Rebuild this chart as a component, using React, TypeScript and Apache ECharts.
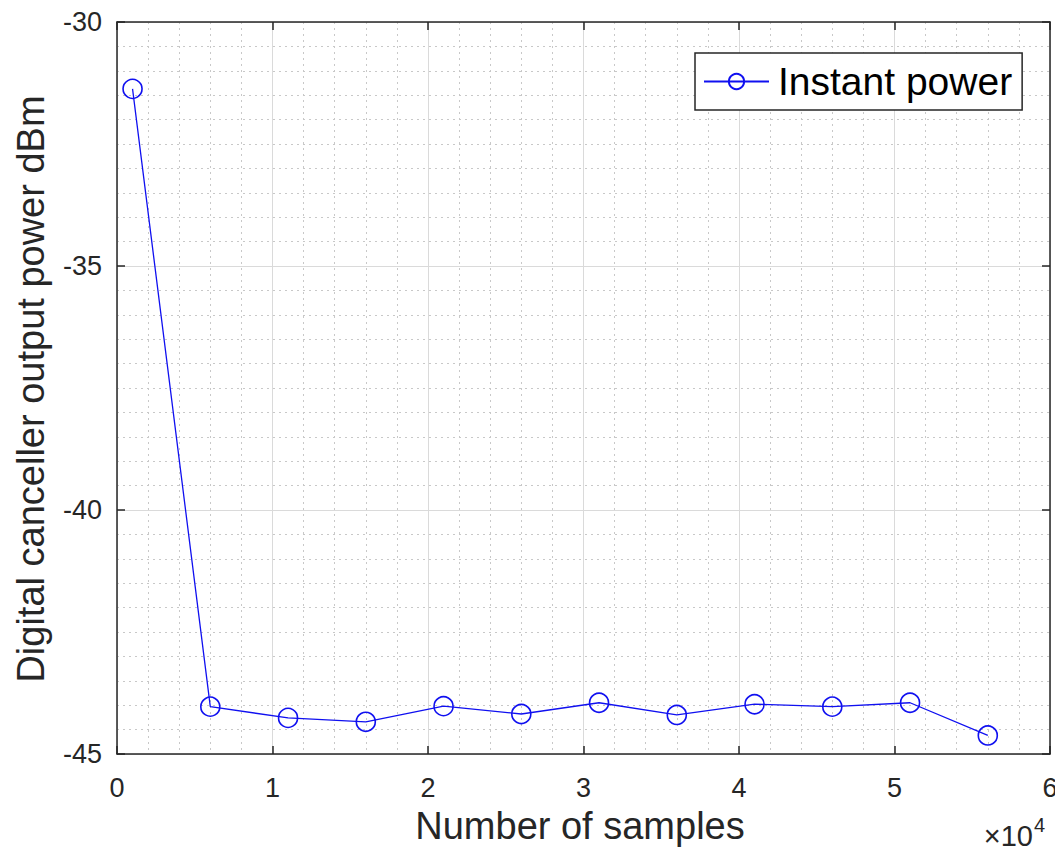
import React, { useEffect, useRef } from "react";
import * as echarts from "echarts";

const xSamples = [1000, 6000, 11000, 16000, 21000, 26000, 31000, 36000, 41000, 46000, 51000, 56000];
const powerDbm = [-31.37, -44.03, -44.26, -44.34, -44.02, -44.18, -43.95, -44.2, -43.98, -44.03, -43.95, -44.62];
const seriesName = "Instant power";
const xTitle = "Number of samples";
const yTitle = "Digital canceller output power dBm";
const xExponentBase = "×10";
const xExponent = "4";

export default function App() {
  const ref = useRef<HTMLDivElement>(null);
  useEffect(() => {
    if (!ref.current) return;
    const chart = echarts.init(ref.current, undefined, { renderer: "svg" });
    const font = "Liberation Sans, Arial, Helvetica, sans-serif";
    const axisCommon = {
      axisLine: { show: true, onZero: false, lineStyle: { color: "#262626", width: 1.5 } },
      axisTick: { show: true, inside: true, length: 8, lineStyle: { color: "#262626", width: 1.5 } },
    };
    chart.setOption({
      animation: false,
      backgroundColor: "#ffffff",
      grid: { left: 117, top: 22, width: 933, height: 732, show: false },
      legend: {
        show: true,
        data: [seriesName],
        left: 695,
        top: 53,
        itemWidth: 65,
        itemHeight: 19,
        itemGap: 0,
        padding: [8, 10, 8, 8],
        borderColor: "#262626",
        borderWidth: 1.5,
        borderRadius: 0,
        backgroundColor: "#ffffff",
        textStyle: { fontSize: 39, lineHeight: 41, color: "#000", fontFamily: font, padding: [0, 0, 0, 4] },
      },
      xAxis: [
        {
          type: "value",
          min: 0,
          max: 60000,
          interval: 10000,
          ...axisCommon,
          axisLabel: {
            color: "#262626",
            fontSize: 27,
            fontFamily: font,
            margin: 20,
            formatter: (v: number) => String(v / 10000),
          },
          splitLine: { show: true, lineStyle: { color: "#dadada", width: 1 } },
          minorTick: { show: false, splitNumber: 5 },
          minorSplitLine: { show: true, lineStyle: { color: "#c8c8c8", width: 1, type: [2, 4] } },
        },
        {
          type: "value",
          position: "top",
          min: 0,
          max: 60000,
          interval: 10000,
          ...axisCommon,
          axisLabel: { show: false },
          splitLine: { show: false },
        },
      ],
      yAxis: [
        {
          type: "value",
          min: -45,
          max: -30,
          interval: 5,
          ...axisCommon,
          axisLabel: { color: "#262626", fontSize: 27, fontFamily: font, margin: 15, padding: [6, 0, 0, 0] },
          splitLine: { show: true, lineStyle: { color: "#dadada", width: 1 } },
          minorTick: { show: false, splitNumber: 10 },
          minorSplitLine: { show: true, lineStyle: { color: "#c8c8c8", width: 1, type: [2, 4] } },
        },
        {
          type: "value",
          position: "right",
          min: -45,
          max: -30,
          interval: 5,
          ...axisCommon,
          axisLabel: { show: false },
          splitLine: { show: false },
        },
      ],
      series: [
        {
          name: seriesName,
          type: "line",
          data: xSamples.map((x, i) => [x, powerDbm[i]]),
          symbol: "circle",
          symbolSize: 19,
          showSymbol: true,
          lineStyle: { color: "#1010f0", width: 1.3 },
          itemStyle: { color: "rgba(0,0,0,0)", borderColor: "#1010f0", borderWidth: 1.6 },
          emphasis: { disabled: true },
        },
      ],
      graphic: [
        {
          type: "text",
          x: 580,
          y: 826,
          style: {
            text: xTitle,
            fontSize: 38,
            fontFamily: font,
            fill: "#262626",
            align: "center",
            verticalAlign: "middle",
          },
        },
        {
          type: "text",
          x: 31,
          y: 389,
          rotation: Math.PI / 2,
          style: {
            text: yTitle,
            fontSize: 38,
            fontFamily: font,
            fill: "#262626",
            align: "center",
            verticalAlign: "middle",
          },
        },
        {
          type: "text",
          x: 1033,
          y: 836,
          style: {
            text: xExponentBase,
            fontSize: 29,
            fontFamily: font,
            fill: "#262626",
            align: "right",
            verticalAlign: "middle",
          },
        },
        {
          type: "text",
          x: 1034,
          y: 825,
          style: {
            text: xExponent,
            fontSize: 20,
            fontFamily: font,
            fill: "#262626",
            align: "left",
            verticalAlign: "middle",
          },
        },
      ],
    });
    return () => chart.dispose();
  }, []);
  return <div ref={ref} style={{ width: 1063, height: 855, margin: -8 }} />;
}
